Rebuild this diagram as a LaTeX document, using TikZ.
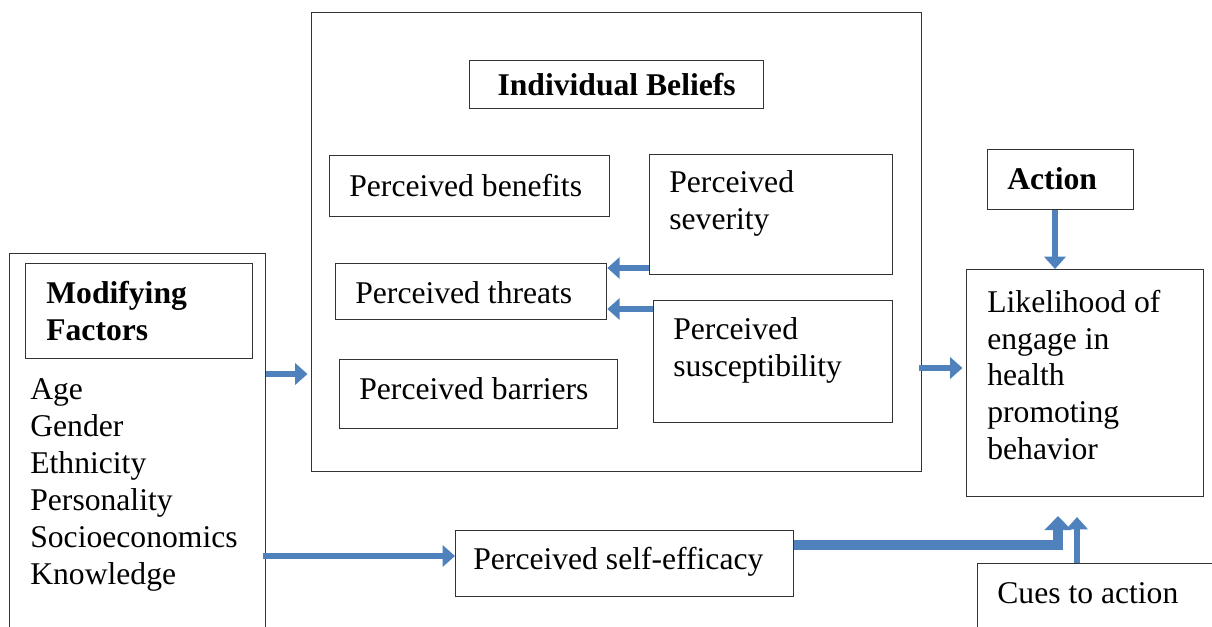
\documentclass[tikz,border=0pt]{standalone}
\usepackage{fontspec}
\setmainfont{Liberation Serif}
\usetikzlibrary{arrows.meta}
\newlength\unitpx
\setlength\unitpx{0.02cm}
\definecolor{arrowblue}{RGB}{79,129,189}
\tikzset{
  box/.style={draw=black!80, line width=0.75pt, anchor=north west, inner sep=0pt},
  lbl/.style={anchor=west, align=left, inner sep=0pt, font=\fontsize{18}{21}\selectfont},
  blockarrow/.style={arrowblue, line width=3.4pt, -{Triangle[width=12pt,length=7pt]}},
  bigarrow/.style={arrowblue, line width=5.5pt, -{Triangle[width=15pt,length=8pt]}}
}
\begin{document}
\begin{tikzpicture}[x=0.02cm,y=-0.02cm]
  \useasboundingbox (0,0) rectangle (1212,626);

  % individual beliefs
  \node[box, minimum width=610\unitpx, minimum height=459\unitpx] (beliefs) at (311,12) {};
  \node[box, minimum width=294\unitpx, minimum height=48\unitpx] (ib) at (469,60) {};
  \node[lbl, anchor=center, font=\fontsize{18}{21}\selectfont\bfseries] (ibtext) at (ib.center) {Individual Beliefs};
  \node[box, minimum width=280\unitpx, minimum height=61\unitpx] (ben) at (329,155) {};
  \node[lbl] (bentext) at (349,186) {Perceived benefits};
  \node[box, minimum width=243\unitpx, minimum height=120\unitpx] (sev) at (649,154) {};
  \node[lbl] (sevtext) at (669,203) {Perceived\\severity};
  \node[box, minimum width=271\unitpx, minimum height=56\unitpx] (thr) at (335,263) {};
  \node[lbl] (thrtext) at (355,293) {Perceived threats};
  \node[box, minimum width=239\unitpx, minimum height=122\unitpx] (sus) at (653,300) {};
  \node[lbl] (sustext) at (673,350) {Perceived\\susceptibility};
  \node[box, minimum width=278\unitpx, minimum height=69\unitpx] (bar) at (339,359) {};
  \node[lbl] (bartext) at (359,389) {Perceived barriers};

  % modifying factors
  \node[box, minimum width=256\unitpx, minimum height=400\unitpx] (mod) at (9,253) {};
  \node[box, minimum width=227\unitpx, minimum height=95\unitpx] (mf) at (25,263) {};
  \node[lbl, font=\fontsize{18}{21}\selectfont\bfseries] (mftext) at (46,311) {Modifying\\Factors};
  \node[lbl] (list) at (30,485) {Age\\Gender\\Ethnicity\\Personality\\Socioeconomics\\Knowledge};

  % action side
  \node[box, minimum width=146\unitpx, minimum height=60\unitpx] (act) at (987,149) {};
  \node[lbl, font=\fontsize{18}{21}\selectfont\bfseries] (acttext) at (1007,179) {Action};
  \node[box, minimum width=237\unitpx, minimum height=227\unitpx] (like) at (966,269) {};
  \node[lbl] (liketext) at (987,375) {Likelihood of\\engage in\\health\\promoting\\behavior};
  \node[box, minimum width=338\unitpx, minimum height=66\unitpx] (eff) at (455,530) {};
  \node[lbl] (efftext) at (473,562) {Perceived self-efficacy};
  \node[box, minimum width=260\unitpx, minimum height=80\unitpx] (cues) at (977,563) {};
  \node[lbl] (cuestext) at (997,593) {Cues to action};

  \coordinate (effend) at (1058,516);
  \coordinate (cueend) at (1077,517);

  % arrows
  \draw[blockarrow] (sev.west |- 0,268) -- (thr.east |- 0,268);
  \draw[blockarrow] (sus.west |- 0,309) -- (thr.east |- 0,309);
  \draw[blockarrow, shorten >=2pt] (mod.east |- 0,374) -- (beliefs.west |- 0,374);
  \draw[blockarrow, shorten <=-2pt, shorten >=2pt] (beliefs.east |- 0,368) -- (like.west |- 0,368);
  \draw[blockarrow] (act.south -| 1055,0) -- (like.north -| 1055,0);
  \draw[blockarrow, shorten <=-2pt] (mod.east |- 0,556) -- (eff.west |- 0,556);
  \draw[bigarrow] (eff.east |- 0,545) -| (effend);
  \draw[blockarrow] (cues.north -| cueend) -- (cueend);
\end{tikzpicture}
\end{document}
